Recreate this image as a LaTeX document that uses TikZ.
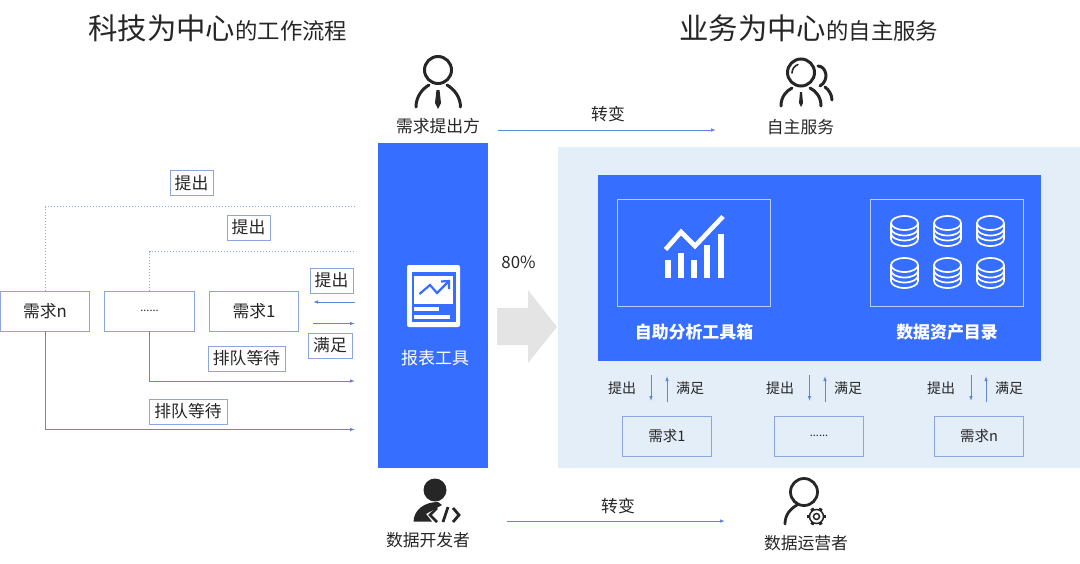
\documentclass[tikz,border=0pt]{standalone}
\usepackage{fontspec}
\setmainfont{Noto Sans CJK SC}
\usepackage{xcolor}
\usetikzlibrary{arrows.meta,positioning}
\definecolor{brandblue}{HTML}{366EFF}
\definecolor{panelblue}{HTML}{E4EEF8}
\definecolor{flowblue}{HTML}{5F85DC}
\definecolor{boxedge}{HTML}{8CA6E0}
\definecolor{inkdark}{HTML}{262626}
\definecolor{arrowgrey}{HTML}{E4E4E4}
\newcommand{\fs}[1]{\fontsize{#1}{#1}\selectfont}
\newcommand{\moredots}{\fs{11}......}
\tikzset{
  reqbox/.style={draw=boxedge,line width=0.9pt,minimum width=89.5pt,minimum height=40pt,inner sep=0pt,outer sep=0pt,text=inkdark,font=\fs{16.8}},
  tagbox/.style={draw=boxedge,line width=0.9pt,inner sep=0pt,minimum height=25pt,text=inkdark,font=\fs{16.8}},
  plain/.style={inner sep=0pt,text=inkdark,font=\fs{16.8}},
  flow/.style={flowblue,line width=0.9pt,-{Latex[length=5pt,width=3.6pt]}},
  flowdot/.style={boxedge,line width=1pt,dotted},
  whitebox/.style={draw=white!65!brandblue,line width=0.9pt,minimum width=153.5pt,minimum height=107pt,inner sep=0pt,outer sep=0pt},
  bandtext/.style={inner sep=0pt,text=white,font=\fs{16.9}\bfseries},
  icon/.style={inkdark,line width=3pt,line cap=round}
}
% one database drum, #1 and #2 give its centre
\newcommand{\drum}[2]{
  \begin{scope}[shift={(#1,#2)},white,line width=1.7pt]
    \draw (0,-8) ellipse (13.5pt and 7pt);
    \draw (-13.5,-8) -- (-13.5,8) arc[start angle=180,end angle=360,x radius=13.5pt,y radius=7pt] -- (13.5,-8);
    \draw (-13.5,-2.5) arc[start angle=180,end angle=360,x radius=13.5pt,y radius=7pt];
    \draw (-13.5,2.5) arc[start angle=180,end angle=360,x radius=13.5pt,y radius=7pt];
  \end{scope}
}
\begin{document}
\begin{tikzpicture}[x=1pt,y=-1pt,>=Latex]
\useasboundingbox (0,0) rectangle (1080,563);
\node[plain,anchor=west] (titleL) at (88,28) {\fs{29.4}科技为中心\fs{22.4}的工作流程};
\node[plain,anchor=west] (titleR) at (679,28) {\fs{29.4}业务为中心\fs{22.4}的自主服务};
% left side queue
\node[reqbox] (reqn) at (45,311) {需求n};
\node[reqbox,right=15pt of reqn] (reqdots) {\moredots};
\node[reqbox,right=15pt of reqdots] (reqone) {需求1};
\node[tagbox,minimum width=43pt] (askA) at (191.5,183) {提出};
\node[tagbox,minimum width=43pt] (askB) at (248.5,227.5) {提出};
\node[tagbox,minimum width=43pt] (askC) at (331.5,280.5) {提出};
\node[tagbox,minimum width=44pt] (meetC) at (330,345.5) {满足};
\node[tagbox,minimum width=77pt] (waitA) at (246.5,358.5) {排队等待};
\node[tagbox,minimum width=78pt] (waitB) at (188,411.5) {排队等待};
\coordinate (dotA) at (356,206.5);
\coordinate (dotB) at (356,251.5);
\coordinate (waitAend) at (355,381);
\coordinate (waitBend) at (355,429.5);
\coordinate (askS) at (355,302);
\coordinate (askE) at (313,302);
\coordinate (meetS) at (313,323.5);
\coordinate (meetE) at (355,323.5);
\draw[flowdot] (reqn.north) |- (dotA);
\draw[flowdot] (reqdots.north) |- (dotB);
\draw[flow] (reqdots.south) |- (waitAend);
\draw[flow] (reqn.south) |- (waitBend);
\draw[flow] (askS) -- (askE);
\draw[flow] (meetS) -- (meetE);
% middle bar
\fill[brandblue] (378,143) rectangle (488,468);
\fill[white,rounded corners=2pt] (407,265) rectangle (460,327);
\fill[brandblue] (412,272) rectangle (456,322);
\fill[white] (414,276) rectangle (453,304);
\fill[white] (414,307) rectangle (439,311);
\fill[white] (414,315) rectangle (450,319);
\draw[brandblue,line width=2.2pt] (419.5,294) -- (430,285) -- (437,293) -- (448,282);
\draw[brandblue,line width=2.2pt] (441,281.5) -- (449,281) -- (449,289);
\node[bandtext,font=\fs{17}] (tool) at (435,358) {报表工具};
% grey arrow
\node[plain] (pct) at (518.5,262) {80\%};
\fill[arrowgrey] (497,308) -- (528,308) -- (528,290) -- (557,327) -- (528,363) -- (528,345) -- (497,345) -- cycle;
% right panel
\fill[panelblue] (558,147) rectangle (1080,468);
\fill[brandblue] (598,175) rectangle (1041,361);
\node[whitebox] (chartbox) at (694,252.5) {};
\node[whitebox] (drumbox) at (947,252.5) {};
\node[bandtext] (chartname) at (694,332) {自助分析工具箱};
\node[bandtext] (drumname) at (947,332) {数据资产目录};
\foreach \x/\y in {664.5/260,677.7/252.7,691/260,704/245,717.7/234}{
  \fill[white] (\x,\y) rectangle (\x+6.2,278);
}
\draw[white,line width=4.6pt] (665.5,249.5) -- (681,232) -- (695,246) -- (723,216.5);
\foreach \x in {904.5,947.5,990.5}{
  \foreach \y in {231,273}{\drum{\x}{\y}}
}
\foreach \i/\cx/\ax/\bx/\mx/\rx/\rtxt in {1/622/651/667/690/667/需求1,2/780/809.5/825/848/819/\moredots,3/941/971/986/1009/979/需求n}{
  \node[plain,font=\fs{14}] (ask\i) at (\cx,388) {提出};
  \node[plain,font=\fs{14}] (meet\i) at (\mx,388) {满足};
  \node[reqbox,font=\fs{14.5}] (panel\i) at (\rx,436) {\rtxt};
  \coordinate (downS\i) at (\ax,375);
  \coordinate (downE\i) at (\ax,401);
  \coordinate (upS\i) at (\bx,402);
  \coordinate (upE\i) at (\bx,376);
  \draw[flow] (downS\i) -- (downE\i);
  \draw[flow] (upS\i) -- (upE\i);
}
% people row
\node[plain] (asker) at (438,126) {需求提出方};
\node[plain] (self) at (800.5,127) {自主服务};
\node[plain] (dev) at (428,540) {数据开发者};
\node[plain] (ops) at (806,543) {数据运营者};
\node[plain] (shiftA) at (608,114) {转变};
\node[plain] (shiftB) at (618,506) {转变};
\coordinate (shiftAs) at (498,130);
\coordinate (shiftAe) at (716,130);
\coordinate (shiftBs) at (507,521);
\coordinate (shiftBe) at (725,521);
\draw[flow] (shiftAs) -- (shiftAe);
\draw[flow] (shiftBs) -- (shiftBe);
% asker icon
\draw[icon] (438,70) circle (13.5pt);
\draw[icon] (416,107) .. controls (416,97) and (422,89) .. (429,85);
\draw[icon] (460.5,107) .. controls (460.5,97) and (454,89) .. (447,85);
\fill[inkdark] (436.5,90) -- (439.5,90) -- (441,103) -- (438,109) -- (435,103) -- cycle;
% self service icon
\draw[icon] (801,72.5) circle (13.5pt);
\draw[inkdark,line width=1.6pt,line cap=round] (792,73) arc[start angle=180,end angle=110,radius=9pt];
\draw[icon] (781,106) .. controls (781,97) and (786,91) .. (792,88);
\draw[icon] (821,106) .. controls (821,97) and (816,91) .. (810,88);
\draw[icon] (818,66) .. controls (826,66) and (830,80) .. (820,86);
\draw[icon] (825,87) .. controls (829,90) and (832,95) .. (832,100);
\fill[inkdark] (800,92) -- (802,92) -- (803,103) -- (801,107) -- (799,103) -- cycle;
% developer icon
\fill[inkdark] (435,490) circle (11.5pt);
\fill[inkdark] (413.5,521.5) .. controls (414,510) and (424,502) .. (438,502) -- (442,505) -- (426,514) -- (432,521.5) -- cycle;
\draw[inkdark,line width=2.8pt] (437,508) -- (430,515) -- (437,522);
\draw[inkdark,line width=2.8pt] (448,507) -- (443,522);
\draw[inkdark,line width=2.8pt] (453,508) -- (459,515) -- (453,522);
% operator icon
\draw[icon,line width=2.8pt] (804,492) circle (13.5pt);
\draw[icon,line width=2.8pt] (785,524) .. controls (785,515) and (790,509) .. (797,505);
\coordinate (gear) at (816.5,516.5);
\foreach \a in {0,60,...,300}{\draw[inkdark,line width=3.4pt] (gear) ++(\a:6.8pt) -- ++(\a:2.6pt);}
\draw[inkdark,fill=white,line width=1.5pt] (gear) circle (7pt);
\draw[inkdark,line width=1.5pt] (gear) circle (3pt);
\end{tikzpicture}
\end{document}
